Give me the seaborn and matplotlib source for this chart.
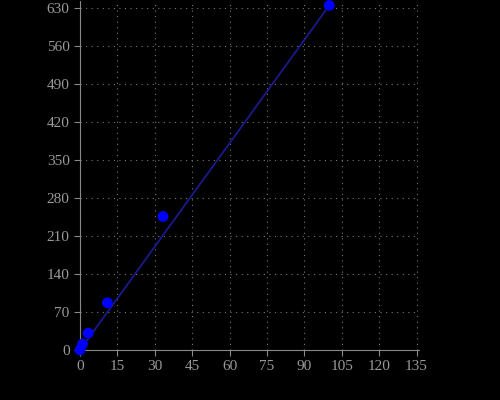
import matplotlib
matplotlib.use("Agg")
import matplotlib.pyplot as plt
import numpy as np
import seaborn as sns

x_vals = [0, 1, 3.3, 11, 33.3, 100]
y_vals = [0, 11, 31, 87, 246, 635]
line_x = [0, 100]
line_y = [0, 635]

sns.set_style("dark")
plt.rcParams['font.family'] = ['Liberation Serif', 'DejaVu Serif']

fig = plt.figure(figsize=(5, 4), dpi=100, facecolor="black")
ax = fig.add_axes([0.16, 0.125, 0.678, 0.875])
ax.set_facecolor("black")

sns.lineplot(x=line_x, y=line_y, ax=ax, color="#1a1a8c", linewidth=1.3)
sns.scatterplot(x=x_vals, y=y_vals, ax=ax, color="#0000ff", s=60, edgecolor="none", zorder=5, clip_on=False)

ax.set_xlim(0, 136)
ax.set_ylim(0, 645)
ax.set_xticks(np.arange(0, 136, 15))
ax.set_yticks(np.arange(0, 631, 70))
ax.grid(True, color="#777777", linestyle=(0, (1, 4)), linewidth=0.8)
for side in ["top", "right"]:
    ax.spines[side].set_visible(False)
for side in ["left", "bottom"]:
    ax.spines[side].set_visible(True)
    ax.spines[side].set_color("#888888")
    ax.spines[side].set_linestyle((0, (2, 1)))
ax.tick_params(colors="#888888", labelcolor="#999999", labelsize=11, length=4,
               left=True, bottom=True, direction="out")

fig.savefig("out.png", facecolor="black")
